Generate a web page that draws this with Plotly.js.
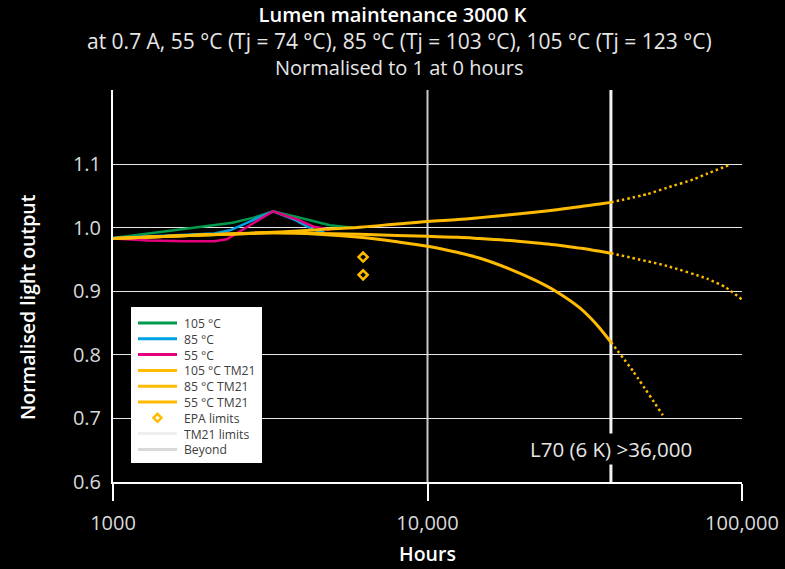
<!DOCTYPE html>
<html><head><meta charset="utf-8">
<script src="https://cdn.plot.ly/plotly-3.0.1.min.js"></script>
<style>html,body{margin:0;padding:0;background:#000;}#chart{width:785px;height:569px;}</style>
</head><body><div id="chart"></div>
<script>
const hours105 = [1000, 1300, 1960, 2400, 2800, 3230, 3840, 4900, 5800];
const lm105    = [0.984, 0.991, 1.003, 1.008, 1.016, 1.026, 1.017, 1.004, 1.000];
const hours85  = [1000, 1600, 2100, 2355, 3230, 3800, 4330, 4700];
const lm85     = [0.984, 0.988, 0.991, 0.996, 1.026, 1.012, 0.997, 0.993];
const hours55  = [1000, 1300, 1700, 2100, 2300, 2530, 3230, 3900, 4330, 4900];
const lm55     = [0.983, 0.980, 0.979, 0.979, 0.982, 0.994, 1.026, 1.012, 1.002, 0.997];

// ---- TM21 projections (solid part) ----
const hoursTM   = [1000, 2000, 3230, 4500, 6100, 8000, 10000, 12500, 14690, 18280, 22300, 25800, 30500, 33000, 35300, 38300];
const tm105     = [0.983, 0.989, 0.992, 0.990, 0.985, 0.978, 0.971, 0.961, 0.952, 0.935, 0.916, 0.899, 0.874, 0.858, 0.842, 0.820];
const tm85      = [0.983, 0.989, 0.992, 0.991, 0.990, 0.988, 0.9865, 0.985, 0.983, 0.980, 0.976, 0.973, 0.968, 0.9655, 0.963, 0.960];
const tm55      = [0.983, 0.989, 0.993, 0.997, 1.001, 1.006, 1.010, 1.013, 1.016, 1.0205, 1.025, 1.0285, 1.033, 1.0355, 1.0375, 1.040];

// ---- Beyond TM21 limit (dotted part) ----
const hoursB105 = [38300, 45100, 56000];
const beyond105 = [0.820, 0.774, 0.705];
const hoursB85  = [38300, 57700, 77400, 89000, 100000];
const beyond85  = [0.960, 0.940, 0.920, 0.906, 0.887];
const hoursB55  = [38300, 50000, 57700, 70000, 77400, 92300];
const beyond55  = [1.040, 1.053, 1.063, 1.076, 1.085, 1.100];

// ---- EPA limits ----
const epaHours  = [6240, 6240];
const epaLimits = [0.954, 0.926];

// ---- TM21 limit ----
const tm21LimitHours = 38300;
const yMin = 0.6, yMax = 1.2168;

// ---- Axis ticks ----
const xTickVals = [1000, 10000, 100000];
const xTickText = ['1000', '10,000', '100,000'];
const yTickVals = [0.6, 0.7, 0.8, 0.9, 1.0, 1.1];
const yTickText = ['0.6', '0.7', '0.8', '0.9', '1.0', '1.1'];

const legendNames  = ['105 °C', '85 °C', '55 °C', '105 °C TM21', '85 °C TM21', '55 °C TM21', 'EPA limits', 'TM21 limits', 'Beyond'];

const GREEN = '#00994d', BLUE = '#00a0e3', MAGENTA = '#e5007e', YELLOW = '#ffbb00';
const legendColors = [GREEN, BLUE, MAGENTA, YELLOW, YELLOW, YELLOW, YELLOW, '#eeeeee', '#d9d9d9'];
const FONT = 'Open Sans, sans-serif';

const traces = [
  {x: [tm21LimitHours, tm21LimitHours], y: [yMin, yMax], mode: 'lines', name: legendNames[7],
   line: {color: '#f2f2f2', width: 3}, hoverinfo: 'skip'},
  {x: hours105, y: lm105, mode: 'lines', name: legendNames[0], line: {color: GREEN, width: 2.5}},
  {x: hours85, y: lm85, mode: 'lines', name: legendNames[1], line: {color: BLUE, width: 2.5}},
  {x: hours55, y: lm55, mode: 'lines', name: legendNames[2], line: {color: MAGENTA, width: 2.5}},
  {x: hoursTM, y: tm105, mode: 'lines', name: legendNames[3], line: {color: YELLOW, width: 3, shape: 'spline', smoothing: 1}},
  {x: hoursTM, y: tm85, mode: 'lines', name: legendNames[4], line: {color: YELLOW, width: 3, shape: 'spline', smoothing: 1}},
  {x: hoursTM, y: tm55, mode: 'lines', name: legendNames[5], line: {color: YELLOW, width: 3, shape: 'spline', smoothing: 1}},
  {x: hoursB105, y: beyond105, mode: 'lines', name: legendNames[3] + ' beyond', line: {color: YELLOW, width: 2.5, dash: '2.5px,3px', shape: 'spline', smoothing: 0.5}},
  {x: hoursB85, y: beyond85, mode: 'lines', name: legendNames[4] + ' beyond', line: {color: YELLOW, width: 2.5, dash: '2.5px,3px', shape: 'spline', smoothing: 0.5}},
  {x: hoursB55, y: beyond55, mode: 'lines', name: legendNames[5] + ' beyond', line: {color: YELLOW, width: 2.5, dash: '2.5px,3px', shape: 'spline', smoothing: 0.5}},
  {x: epaHours, y: epaLimits, mode: 'markers', name: legendNames[6],
   marker: {symbol: 'diamond-open', size: 7, color: YELLOW, line: {color: YELLOW, width: 2.5}}}
];
traces.forEach(t => t.showlegend = false);

// pixel -> paper helpers (plot area: x 113..742, y 90..482)
const px = v => (v - 113) / 629;
const py = v => (482 - v) / 392;

const ROW0 = 323, ROWGAP = 15.8;
const shapes = [
  {type: 'line', xref: 'x', yref: 'paper', x0: 10000, x1: 10000, y0: 0, y1: 1,
   line: {color: '#c8c8c8', width: 2}, layer: 'below'},
  // custom legend box
  {type: 'rect', xref: 'paper', yref: 'paper', x0: px(131), x1: px(262), y0: py(307), y1: py(463),
   fillcolor: '#ffffff', line: {width: 0}, layer: 'above'}
];
legendNames.forEach((name, i) => {
  const rowY = ROW0 + ROWGAP * i;
  if (name === 'EPA limits') {
    const cx = 157.5, r = 4;
    shapes.push({type: 'path', xref: 'paper', yref: 'paper',
      path: `M${px(cx)},${py(rowY - r)} L${px(cx + r)},${py(rowY)} L${px(cx)},${py(rowY + r)} L${px(cx - r)},${py(rowY)} Z`,
      line: {color: legendColors[i], width: 2.5}, fillcolor: 'rgba(0,0,0,0)', layer: 'above'});
  } else {
    shapes.push({type: 'line', xref: 'paper', yref: 'paper', x0: px(138), x1: px(177), y0: py(rowY), y1: py(rowY),
      line: {color: legendColors[i], width: 3}, layer: 'above'});
  }
});

const annotations = [
  {text: 'at 0.7 A, 55 °C (Tj = 74 °C), 85 °C (Tj = 103 °C), 105 °C (Tj = 123 °C)', xref: 'paper', yref: 'paper',
   x: px(399), y: py(41), xanchor: 'center', yanchor: 'middle', showarrow: false,
   font: {family: FONT, size: 21, color: '#e6e6e6'}},
  {text: 'Normalised to 1 at 0 hours', xref: 'paper', yref: 'paper',
   x: px(399), y: py(67), xanchor: 'center', yanchor: 'middle', showarrow: false,
   font: {family: FONT, size: 20, color: '#e6e6e6'}},
  {text: 'Normalised light output', xref: 'paper', yref: 'paper', textangle: -90,
   x: px(27), y: py(307), xanchor: 'center', yanchor: 'middle', showarrow: false,
   font: {family: FONT, size: 19.5, color: '#ffffff', weight: 600}},
  {text: 'L70 (6 K) >36,000', xref: 'x', yref: 'y', x: Math.log10(tm21LimitHours), y: 0.6515,
   xanchor: 'center', yanchor: 'middle', showarrow: false, bgcolor: '#000000',
   font: {family: FONT, size: 20.5, color: '#e6e6e6'}},
  // legend texts as one multi-line block (line spacing = 1.3 x font size = row gap)
  {text: legendNames.join('<br>'), xref: 'paper', yref: 'paper', align: 'left',
   x: px(183), y: py(ROW0 + ROWGAP * (legendNames.length - 1) / 2), xanchor: 'left', yanchor: 'middle',
   showarrow: false, borderpad: 0,
   font: {family: FONT, size: ROWGAP / 1.3, color: '#404040'}}
];

const layout = {
  width: 785, height: 569,
  paper_bgcolor: '#000', plot_bgcolor: '#000',
  margin: {l: 113, r: 43, t: 90, b: 87, pad: 0},
  font: {family: FONT, color: '#ffffff'},
  showlegend: false,
  title: {text: 'Lumen maintenance 3000 K', font: {family: FONT, size: 20, color: '#ffffff', weight: 600},
          x: 0.5, xref: 'container', xanchor: 'center', y: 1 - 15/569, yref: 'container', yanchor: 'middle'},
  xaxis: {type: 'log', range: [3, 5], tickvals: xTickVals, ticktext: xTickText,
          ticks: 'outside', ticklen: 17, tickwidth: 2, tickcolor: '#ffffff',
          showline: true, linecolor: '#ffffff', linewidth: 2, showgrid: false, zeroline: false,
          tickfont: {family: FONT, size: 20, color: '#d9d9d9'}, ticklabelstandoff: 5,
          title: {text: 'Hours', font: {family: FONT, size: 19.5, color: '#ffffff', weight: 600}, standoff: 12}},
  yaxis: {range: [yMin, yMax], tickvals: yTickVals, ticktext: yTickText,
          ticks: '', showline: true, linecolor: '#ffffff', linewidth: 2,
          showgrid: true, gridcolor: '#e6e6e6', gridwidth: 1, zeroline: false,
          tickfont: {family: FONT, size: 20, color: '#d9d9d9'}, ticklabelstandoff: 6},
  shapes: shapes,
  annotations: annotations
};

Plotly.newPlot('chart', traces, layout, {displayModeBar: false, staticPlot: true});
</script></body></html>
